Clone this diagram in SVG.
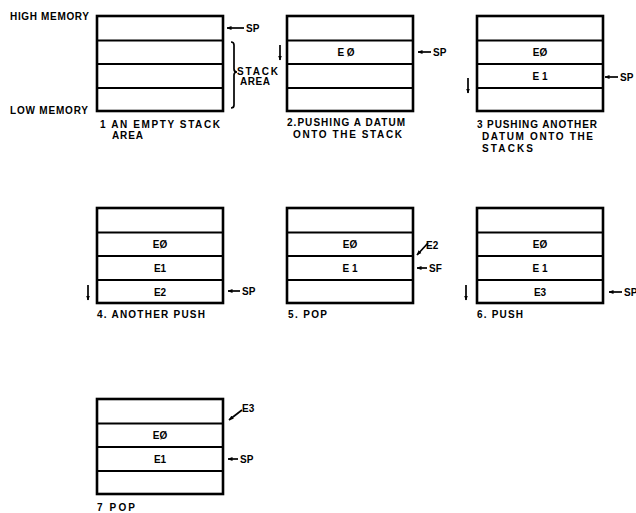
<svg xmlns="http://www.w3.org/2000/svg" width="636" height="513" viewBox="0 0 636 513">
<style>
.box{fill:#fff;stroke:#000;stroke-width:2.6}
.div{stroke:#000;stroke-width:2.2}
.t{font-family:"Liberation Sans",Arial,sans-serif;font-weight:bold;font-size:10px;fill:#000}
.c{font-family:"Liberation Sans",Arial,sans-serif;font-weight:bold;font-size:10px;fill:#000}
.m{text-anchor:middle}
.ln{stroke:#000;stroke-width:1.7;fill:none}
</style>
<defs>
<marker id="ah" viewBox="0 0 10 10" refX="9" refY="5" markerWidth="5" markerHeight="5" orient="auto" markerUnits="userSpaceOnUse">
<path d="M0,1 L10,5 L0,9 z" fill="#000"/>
</marker>
<g id="stack">
<rect class="box" x="0" y="0" width="126" height="95"/>
<line class="div" x1="0" y1="24.5" x2="126" y2="24.5"/>
<line class="div" x1="0" y1="48" x2="126" y2="48"/>
<line class="div" x1="0" y1="72" x2="126" y2="72"/>
</g>
</defs>
<rect width="636" height="513" fill="#fff"/>

<text class="t" x="10" y="20" textLength="79" lengthAdjust="spacing">HIGH MEMORY</text>
<text class="t" x="10" y="114" textLength="78" lengthAdjust="spacing">LOW MEMORY</text>

<g id="stack1">
<use href="#stack" x="97" y="16"/>
<path class="ln" d="M231,42 q3,0 3,3 v24 q0,3 3,3 q-3,0 -3,3 v30 q0,3 -3,3"/>
<text class="t" x="237" y="75" textLength="41" lengthAdjust="spacing">STACK</text>
<text class="t" x="240" y="85" textLength="30" lengthAdjust="spacing">AREA</text>
<text class="c" x="100" y="128" textLength="120" lengthAdjust="spacing">1 AN EMPTY STACK</text>
<text class="c" x="112" y="139" textLength="31" lengthAdjust="spacing">AREA</text>
</g>

<g id="stack2">
<use href="#stack" x="287" y="16"/>
<text class="t m" x="346" y="56">E Ø</text>
<text class="c" x="287" y="126" textLength="118" lengthAdjust="spacing">2.PUSHING A DATUM</text>
<text class="c" x="293" y="138" textLength="109" lengthAdjust="spacing">ONTO THE STACK</text>
</g>

<g id="stack3">
<use href="#stack" x="477" y="16"/>
<text class="t m" x="540" y="56">EØ</text>
<text class="t m" x="540" y="80">E 1</text>
<text class="c" x="477" y="128" textLength="120" lengthAdjust="spacing">3 PUSHING ANOTHER</text>
<text class="c" x="482" y="140" textLength="111" lengthAdjust="spacing">DATUM ONTO THE</text>
<text class="c" x="482" y="152" textLength="51" lengthAdjust="spacing">STACKS</text>
</g>

<g id="stack4">
<use href="#stack" x="97" y="208"/>
<text class="t m" x="160" y="248">EØ</text>
<text class="t m" x="160" y="272">E1</text>
<text class="t m" x="160" y="296">E2</text>
<text class="c" x="97" y="318" textLength="108" lengthAdjust="spacing">4. ANOTHER PUSH</text>
</g>

<g id="stack5">
<use href="#stack" x="287" y="208"/>
<text class="t m" x="350" y="248">EØ</text>
<text class="t m" x="350" y="272">E 1</text>
<text class="t" x="426" y="249">E2</text>
<text class="c" x="288" y="318" textLength="39" lengthAdjust="spacing">5. POP</text>
</g>

<g id="stack6">
<use href="#stack" x="477" y="208"/>
<text class="t m" x="540" y="248">EØ</text>
<text class="t m" x="540" y="272">E 1</text>
<text class="t m" x="540" y="296">E3</text>
<text class="c" x="477" y="318" textLength="46" lengthAdjust="spacing">6. PUSH</text>
</g>

<g id="stack7">
<use href="#stack" x="97" y="399"/>
<text class="t m" x="160" y="439">EØ</text>
<text class="t m" x="160" y="463">E1</text>
<text class="t" x="242" y="412">E3</text>
<text class="c" x="97" y="511" textLength="38" lengthAdjust="spacing">7 POP</text>
</g>

<g id="pointers">
<text class="t" x="246" y="32">SP</text>
<text class="t" x="433" y="56">SP</text>
<text class="t" x="620" y="81">SP</text>
<text class="t" x="242" y="295">SP</text>
<text class="t" x="429" y="272">SF</text>
<text class="t" x="624" y="296">SP</text>
<text class="t" x="240" y="463">SP</text>
</g>

<g id="connectors">
<line class="ln" x1="244" y1="28" x2="227" y2="28" marker-end="url(#ah)"/>
<line class="ln" x1="431" y1="52" x2="418" y2="52" marker-end="url(#ah)"/>
<line class="ln" x1="618" y1="77" x2="605" y2="77" marker-end="url(#ah)"/>
<line class="ln" x1="240" y1="291" x2="228" y2="291" marker-end="url(#ah)"/>
<line class="ln" x1="427" y1="268" x2="417" y2="268" marker-end="url(#ah)"/>
<line class="ln" x1="622" y1="292" x2="609" y2="292" marker-end="url(#ah)"/>
<line class="ln" x1="238" y1="459" x2="228" y2="459" marker-end="url(#ah)"/>
<line class="ln" x1="280" y1="45" x2="280" y2="60" marker-end="url(#ah)"/>
<line class="ln" x1="468" y1="78" x2="468" y2="93" marker-end="url(#ah)"/>
<line class="ln" x1="88" y1="285" x2="88" y2="300" marker-end="url(#ah)"/>
<line class="ln" x1="466" y1="285" x2="466" y2="300" marker-end="url(#ah)"/>
<line class="ln" x1="428" y1="243" x2="417" y2="255" marker-end="url(#ah)"/>
<line class="ln" x1="242" y1="410" x2="229" y2="420" marker-end="url(#ah)"/>
</g>
</svg>
